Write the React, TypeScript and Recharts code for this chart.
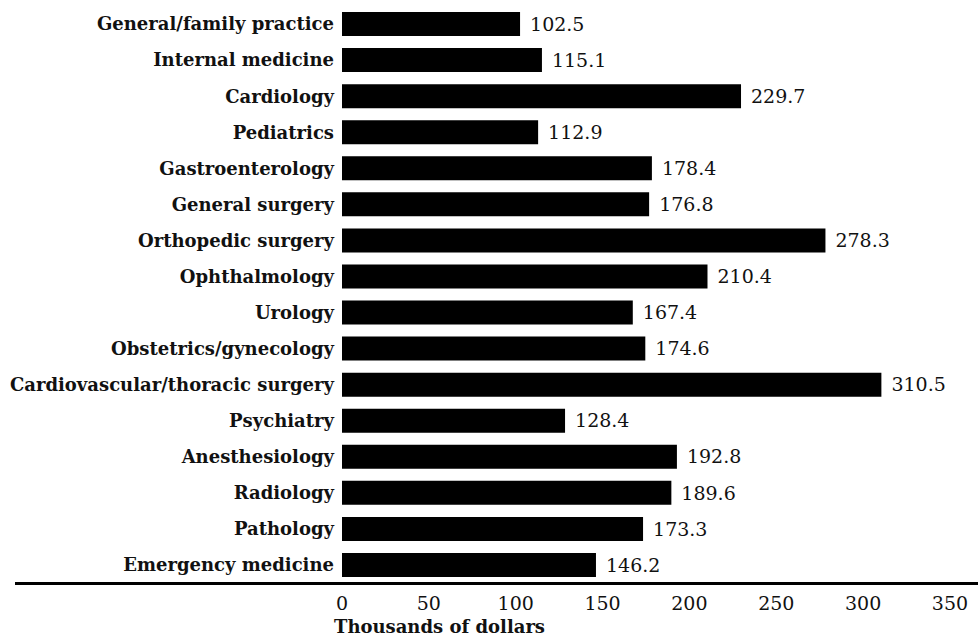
import { BarChart, Bar, XAxis, YAxis, LabelList } from 'recharts'

const specialties = [
  'General/family practice',
  'Internal medicine',
  'Cardiology',
  'Pediatrics',
  'Gastroenterology',
  'General surgery',
  'Orthopedic surgery',
  'Ophthalmology',
  'Urology',
  'Obstetrics/gynecology',
  'Cardiovascular/thoracic surgery',
  'Psychiatry',
  'Anesthesiology',
  'Radiology',
  'Pathology',
  'Emergency medicine',
]

const income = [
  102.5, 115.1, 229.7, 112.9, 178.4, 176.8, 278.3, 210.4,
  167.4, 174.6, 310.5, 128.4, 192.8, 189.6, 173.3, 146.2,
]

const xTicks = [0, 50, 100, 150, 200, 250, 300, 350]

const data = specialties.map((name, i) => ({ name, value: income[i] }))

const serif = '"DejaVu Serif", serif'

export default function App() {
  return (
    <div style={{ position: 'absolute', left: 0, top: 0, width: 978, height: 644, background: '#fff' }}>
      <BarChart
        width={978}
        height={644}
        data={data}
        layout="vertical"
        margin={{ top: 6, right: 28, bottom: 0, left: 0 }}
        barSize={24}
      >
        <XAxis
          type="number"
          domain={[0, 350]}
          ticks={xTicks}
          axisLine={false}
          tickLine={false}
          tickSize={6}
          tickMargin={8}
          height={61}
          interval={0}
          tick={{ fill: '#111', fontFamily: serif, fontSize: 19 }}
          label={{
            content: ({ viewBox }: any) => (
              <text
                x={viewBox.x - 8}
                y={viewBox.y + 50}
                fill="#111"
                fontFamily={serif}
                fontWeight="bold"
                fontSize={18}
              >
                Thousands of dollars
              </text>
            ),
          }}
        />
        <YAxis
          type="category"
          dataKey="name"
          width={342}
          axisLine={false}
          tickLine={false}
          interval={0}
          tick={{ fill: '#111', fontFamily: serif, fontWeight: 'bold', fontSize: 18 }}
        />
        <Bar dataKey="value" fill="#000" isAnimationActive={false}>
          <LabelList
            dataKey="value"
            position="right"
            offset={10}
            fill="#111"
            fontFamily={serif}
            fontSize={19}
            formatter={(v: any) => Number(v).toFixed(1)}
          />
        </Bar>
      </BarChart>
      <div
        style={{
          position: 'absolute',
          left: 15,
          top: 582,
          width: 963,
          height: 3,
          background: '#000',
        }}
      />
    </div>
  )
}
